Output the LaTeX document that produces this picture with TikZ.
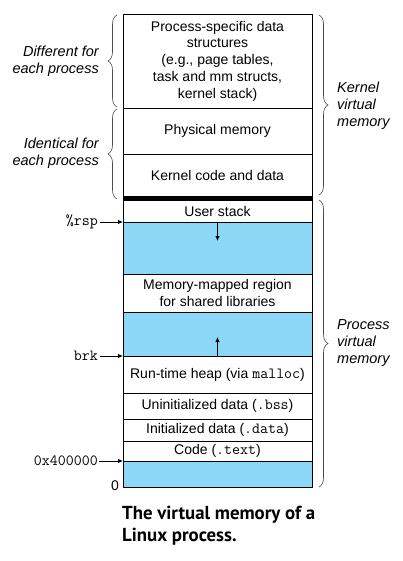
\documentclass[tikz,border=0pt]{standalone}
\usepackage{fontspec}
\setmainfont{Liberation Sans}
\newfontfamily\capfont{PT Sans}
\usetikzlibrary{arrows.meta,decorations.pathreplacing}
\definecolor{memblue}{RGB}{140,214,246}
\newcommand\code[1]{{\fontsize{15.5}{17}\selectfont\ttfamily #1}}

\begin{document}
\begin{tikzpicture}[x=1pt,y=1pt,
    region/.style={draw,line width=0.9pt,minimum width=189pt,inner sep=0pt,outer sep=0pt,
      anchor=north,align=center,font=\fontsize{14}{16.7}\selectfont},
    gap/.style={region,fill=memblue},
    side/.style={inner sep=0pt,font=\fontsize{14.5}{17}\selectfont\itshape},
    addr/.style={anchor=east,inner sep=0pt},
    ptr/.style={-{Latex[length=5pt,width=4.5pt]},line width=0.8pt},
    brc/.style={decorate,decoration={brace,amplitude=9pt},line width=0.6pt,black!70}]
    \useasboundingbox (0,0) rectangle (402,-561);

    % kernel virtual memory
    \node[region,minimum height=94pt] (pspec) at (217.5,-14) {Process-specific data\\structures\\(e.g., page tables,\\task and mm structs,\\kernel stack)};
    \node[region,minimum height=46pt] (phys) at (217.5,-108) {Physical memory};
    \node[region,minimum height=42pt] (kcode) at (217.5,-154) {Kernel code and data};
    \node[region,fill=black,minimum height=4pt] (bar) at (217.5,-196) {};

    % process virtual memory
    \node[region,minimum height=22pt] (ustack) at (217.5,-200) {User stack};
    \node[gap,minimum height=52pt] (gap1) at (217.5,-222) {};
    \node[region,minimum height=38pt] (mmap) at (217.5,-274) {Memory-mapped region\\for shared libraries};
    \node[gap,minimum height=44pt] (gap2) at (217.5,-312) {};
    \node[region,minimum height=37pt] (heap) at (217.5,-356) {Run-time heap (via \code{malloc})};
    \node[region,minimum height=26pt] (bss) at (217.5,-393) {Uninitialized data (\code{.bss})};
    \node[region,minimum height=22pt] (data) at (217.5,-419) {Initialized data (\code{.data})};
    \node[region,minimum height=20pt] (text) at (217.5,-441) {Code (\code{.text})};
    \node[gap,minimum height=26pt] (gap3) at (217.5,-461) {};

    \coordinate (spdown) at (217.5,-241);
    \coordinate (brkup) at (217.5,-337);
    \path[draw,ptr] (gap1.north) -- (spdown);
    \path[draw,ptr] (gap2.south) -- (brkup);

    % addresses
    \node[addr] (rsp) at (98,-222) {\code{\%rsp}};
    \node[addr] (brk) at (98,-356) {\code{brk}};
    \node[addr] (start) at (98,-461) {\code{0x400000}};
    \node[addr,font=\fontsize{14}{16}\selectfont] (zero) at (119,-486) {0};
    \path[draw,ptr,shorten <=2pt] (rsp) -- (gap1.north west);
    \path[draw,ptr,shorten <=2pt] (brk) -- (gap2.south west);
    \path[draw,ptr,shorten <=1pt] (start) -- (gap3.north west);

    % braces
    \draw[brc] (117,-107) -- (117,-15);
    \draw[brc] (117,-199) -- (117,-109);
    \draw[brc] (319,-15) -- (319,-195);
    \draw[brc] (319,-200) -- (319,-487);
    \node[side,anchor=east,align=right] (diff) at (99,-61) {Different for\\each process};
    \node[side,anchor=east,align=right] (ident) at (99,-153) {Identical for\\each process};
    \node[side,anchor=west,align=left] (kvm) at (337,-106) {Kernel\\virtual\\memory};
    \node[side,anchor=west,align=left] (pvm) at (337,-343.5) {Process\\virtual\\memory};

    % caption
    \node[anchor=north west,align=left,inner sep=0pt,font=\capfont\bfseries\fontsize{18.8}{22}\selectfont] (caption) at (122,-506) {The virtual memory of a\\Linux process.};
\end{tikzpicture}
\end{document}
